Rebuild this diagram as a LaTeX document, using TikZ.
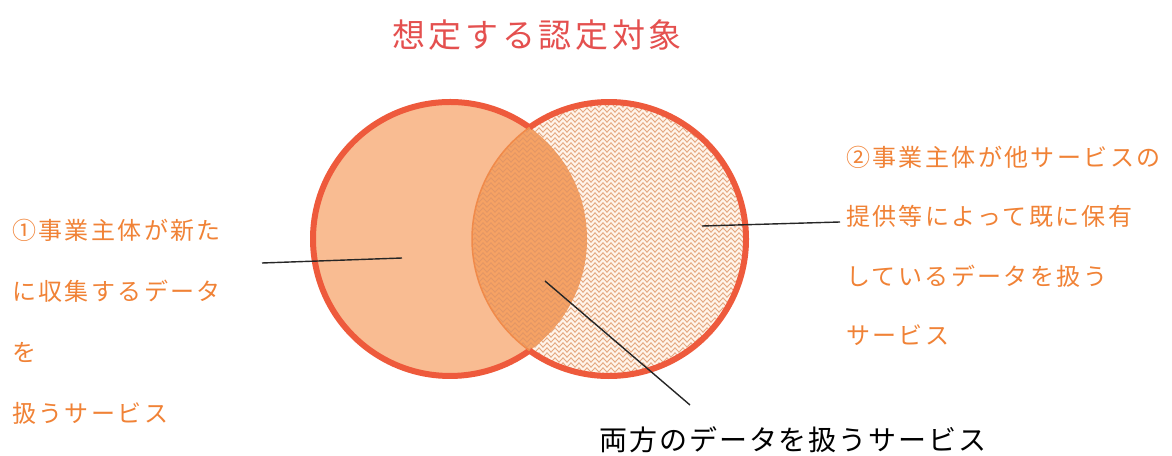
\documentclass[tikz,border=0pt]{standalone}
\usepackage{fontspec}
\newfontfamily\jptitle[LetterSpace=11]{Noto Sans CJK JP}
\newfontfamily\jpside[LetterSpace=10]{Noto Sans CJK JP}
\newfontfamily\jpbottom[LetterSpace=7]{Noto Sans CJK JP}
\usetikzlibrary{decorations.pathmorphing}

\definecolor{ringred}{HTML}{EE5A3C}
\definecolor{thinorange}{HTML}{F08A4A}
\definecolor{leftfill}{HTML}{F9BC92}
\definecolor{overlapfill}{HTML}{F6A264}
\definecolor{creamfill}{HTML}{FFF4EA}
\definecolor{zigzagtan}{HTML}{DE9466}
\definecolor{titlered}{HTML}{E4504F}
\definecolor{sideorange}{HTML}{F08236}

\begin{document}
\begin{tikzpicture}
[x=1pt, y=1pt,
 ring/.style={draw=ringred, line width=6pt},
 thinring/.style={draw=thinorange, line width=1.5pt},
 zigzagline/.style={draw=zigzagtan, line width=0.9pt, opacity=0.8,
   decorate, decoration={zigzag, segment length=8pt, amplitude=2.2pt}},
 titletext/.style={text=titlered, font=\jptitle\fontsize{33}{33}\selectfont},
 sidetext/.style={text=sideorange, anchor=west, inner sep=0pt,
   font=\jpside\fontsize{24}{24}\selectfont},
 bottomtext/.style={text=black, font=\jpbottom\fontsize{28}{28}\selectfont},
 pointer/.style={draw=black!85, line width=1.4pt}]
\useasboundingbox (0,0) rectangle (1172,455);
\coordinate (lc) at (450,216);
\coordinate (rc) at (609,216);

% circles
\fill[leftfill] (lc) circle [radius=137];
\fill[creamfill] (rc) circle [radius=137];
\begin{scope}
\clip (lc) circle [radius=137];
\fill[overlapfill] (rc) circle [radius=137];
\end{scope}
\begin{scope}
\clip (rc) circle [radius=137];
\foreach \y in {75,80,...,355}{
	\draw[zigzagline] (465,\y) -- (755,\y);
}
\end{scope}
\draw[ring] (lc) ++(54.53:137) arc [start angle=54.53, end angle=305.47, radius=137];
\draw[ring] (rc) ++(-125.47:137) arc [start angle=-125.47, end angle=125.47, radius=137];
\draw[thinring] (rc) ++(125.47:137) arc [start angle=125.47, end angle=234.53, radius=137];

% texts
\node[titletext] (title) at (537,420) {想定する認定対象};
\foreach \txt [count=\i] in {①事業主体が新た, に収集するデータ, を, 扱うサービス}{
	\node[sidetext] (left\i) at (12, 286-61*\i) {\txt};
}
\foreach \txt [count=\i] in {②事業主体が他サービスの, 提供等によって既に保有, しているデータを扱う, サービス}{
	\node[sidetext] (right\i) at (846, 357-59.3*\i) {\txt};
}
\node[bottomtext] (both) at (793,15) {両方のデータを扱うサービス};

% pointers
\coordinate (lend) at (262,192);
\coordinate (lin) at (402,197);
\coordinate (rin) at (702,229);
\coordinate (rend) at (840,233);
\coordinate (min) at (545,174);
\coordinate (mend) at (690,50);
\draw[pointer] (lend) -- (lin);
\draw[pointer] (rin) -- (rend);
\draw[pointer] (min) -- (mend);
\end{tikzpicture}
\end{document}
